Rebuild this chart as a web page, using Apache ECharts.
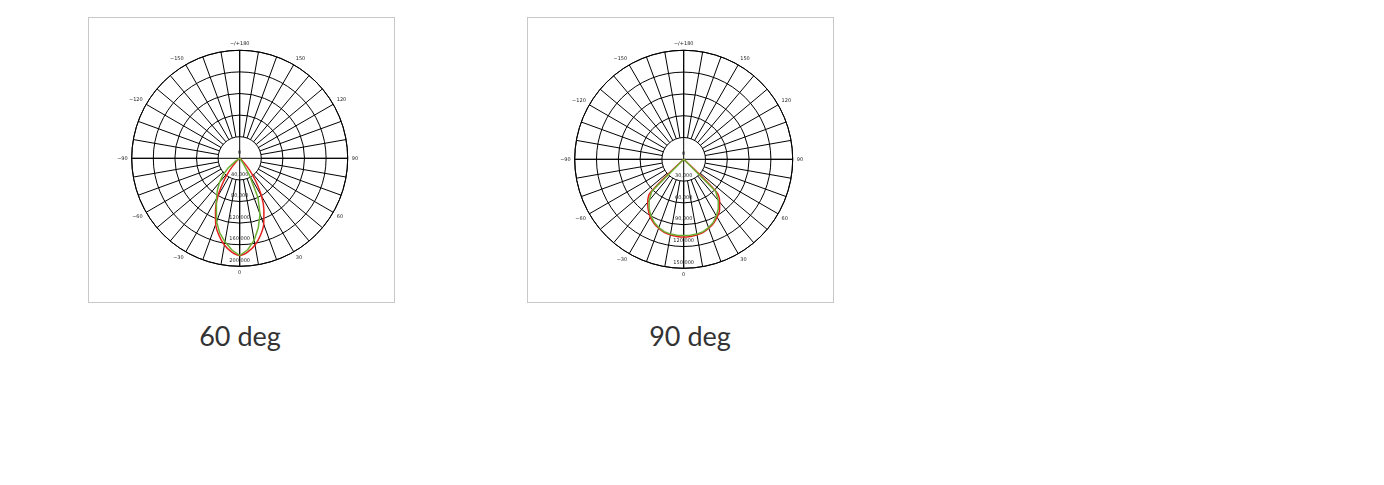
<!DOCTYPE html>
<html>
<head>
<meta charset="utf-8">
<script src="https://cdn.jsdelivr.net/npm/echarts@6/dist/echarts.min.js"></script>
<style>
  html, body { margin: 0; padding: 0; background: #fff; }
  body { width: 1384px; height: 485px; position: relative; overflow: hidden; }
  .box { position: absolute; top: 17px; width: 305px; height: 284px; border: 1px solid #c8c8c8; background: #fff; }
  .title { position: absolute; top: 319px; width: 200px; text-align: center; font-family: Lato, "Noto Sans", sans-serif; font-size: 27px; line-height: 34px; color: #333; }
</style>
</head>
<body>
<div class="box" id="c1" style="left:88px"></div>
<div class="box" id="c2" style="left:527px"></div>
<div class="title" id="t1" style="left:140px"></div>
<div class="title" id="t2" style="left:590px"></div>
<script>
// ---------- data ----------
const titles = ['60 deg', '90 deg'];

// chart 1 (60 deg) : radial ticks
const radialTicks1 = [0, 40000, 80000, 120000, 160000, 200000];
// chart 2 (90 deg) : radial ticks
const radialTicks2 = [0, 30000, 60000, 90000, 120000, 150000];

// angle tick labels (every 30 deg)
const angleTicks = [-180, -150, -120, -90, -60, -30, 0, 30, 60, 90, 120, 150, 180];

// chart 1, red curve
const redAngles1 = [-50, -45, -40, -35, -30, -25, -20, -15, -10, -5, 0, 5, 10, 15, 20, 25, 30, 35, 40, 45, 50];
const redValues1 = [0, 10000, 29000, 52000, 81000, 106000, 130000, 148000, 163000, 174000, 180000, 174000, 163000, 148000, 130000, 106000, 81000, 52000, 29000, 10000, 0];
// chart 1, green curve
const greenAngles1 = [-60, -55, -50, -45, -40, -35, -30, -25, -20, -15, -10, -5, 0, 5, 10, 15, 20, 25, 30, 35, 40];
const greenValues1 = [0, 10000, 28000, 44000, 58000, 72000, 86000, 102000, 125000, 143000, 157000, 170000, 180000, 170000, 154000, 133000, 110000, 80000, 36000, 10000, 0];

// chart 2, red curve
const redAngles2 = [-50, -45, -40, -35, -30, -25, -20, -15, -10, -5, 0, 5, 10, 15, 20, 25, 30, 35, 40, 45, 50];
const redValues2 = [0, 65000, 77000, 85000, 92000, 97000, 101000, 104000, 105500, 106500, 107000, 106500, 105500, 104000, 101000, 97000, 92000, 86000, 77000, 64000, 0];
// chart 2, green curve
const greenAngles2 = [-50, -45, -40, -35, -30, -25, -20, -15, -10, -5, 0, 5, 10, 15, 20, 25, 30, 35, 40, 45, 50];
const greenValues2 = [0, 62000, 74000, 83000, 90000, 96000, 100000, 103000, 104500, 105000, 105000, 105000, 104500, 103000, 100000, 96000, 90000, 83000, 74000, 62000, 0];

// ---------- builder ----------
const RED = '#e3201c';
const GREEN = '#6cb033';
const LABEL_FONT = 'DejaVu Sans';

function fmtAngle(v) {
  if (v === angleTicks[0]) return '\u2212/+180';
  if (v === angleTicks[angleTicks.length - 1]) return '';
  return v < 0 ? '\u2212' + (-v) : String(v);
}

function pairs(angles, values) {
  return angles.map((a, i) => [values[i], a]);
}

function buildOption(cfg) {
  const c = cfg.center, R = cfg.radius;
  const rmin = cfg.ticks[0], rmax = cfg.ticks[cfg.ticks.length - 1];
  const rint = cfg.ticks[1] - cfg.ticks[0];
  const aMin = angleTicks[0], aMax = angleTicks[angleTicks.length - 1];
  const line = { color: '#000', width: 1 };
  const off = { show: false };
  return {
    animation: false,
    backgroundColor: '#fff',
    polar: [
      { center: c, radius: [0, R] },
      { center: c, radius: [R / 5, R] },
      { center: c, radius: [0, R] }
    ],
    angleAxis: [
      {
        polarIndex: 0, type: 'value', min: aMin, max: aMax, interval: angleTicks[1] - angleTicks[0],
        startAngle: 90, clockwise: false,
        axisLine: { show: true, lineStyle: line },
        axisTick: off,
        splitLine: off,
        axisLabel: { show: true, margin: 4, fontSize: 5, fontFamily: LABEL_FONT, color: '#222', formatter: fmtAngle }
      },
      {
        polarIndex: 1, type: 'value', min: aMin, max: aMax, interval: 10,
        startAngle: 90, clockwise: false,
        axisLine: off, axisTick: off, axisLabel: off,
        splitLine: { show: true, lineStyle: line }
      },
      {
        polarIndex: 2, type: 'value', min: aMin, max: aMax, interval: 90,
        startAngle: 270, clockwise: false,
        axisLine: off, axisTick: off, axisLabel: off,
        splitLine: { show: true, lineStyle: line }
      }
    ],
    radiusAxis: [
      {
        polarIndex: 0, type: 'value', min: rmin, max: rmax, interval: rint,
        axisLine: off, axisTick: off, axisLabel: off,
        splitLine: { show: true, lineStyle: line }
      },
      {
        polarIndex: 1, type: 'value', min: rmin, max: rmax, interval: rint,
        axisLine: off, axisTick: off, axisLabel: off, splitLine: off
      },
      {
        polarIndex: 2, type: 'value', min: rmin, max: rmax, interval: rint,
        axisLine: off, axisTick: off, splitLine: off,
        axisLabel: {
          show: true, margin: 0, align: 'center', verticalAlign: 'bottom',
          fontSize: 5, lineHeight: 11, fontFamily: LABEL_FONT, color: '#222',
          showMinLabel: true, showMaxLabel: true
        }
      }
    ],
    series: [
      {
        type: 'line', coordinateSystem: 'polar', polarIndex: 0, z: 5,
        data: pairs(cfg.redA, cfg.redV), showSymbol: false, symbol: 'none',
        smooth: cfg.redSmooth, lineStyle: { color: RED, width: 1.5 }
      },
      {
        type: 'line', coordinateSystem: 'polar', polarIndex: 0, z: 6,
        data: pairs(cfg.greenA, cfg.greenV), showSymbol: false, symbol: 'none',
        smooth: false, lineStyle: { color: GREEN, width: 1.5 }
      }
    ]
  };
}

document.getElementById('t1').textContent = titles[0];
document.getElementById('t2').textContent = titles[1];

const ch1 = echarts.init(document.getElementById('c1'), null, { renderer: 'canvas' });
ch1.setOption(buildOption({
  center: [150.7, 140.3], radius: 108, ticks: radialTicks1,
  redA: redAngles1, redV: redValues1, redSmooth: 0.3,
  greenA: greenAngles1, greenV: greenValues1
}));
const ch2 = echarts.init(document.getElementById('c2'), null, { renderer: 'canvas' });
ch2.setOption(buildOption({
  center: [155.7, 141.3], radius: 109, ticks: radialTicks2,
  redA: redAngles2, redV: redValues2, redSmooth: 0.3,
  greenA: greenAngles2, greenV: greenValues2
}));
</script>
</body>
</html>
